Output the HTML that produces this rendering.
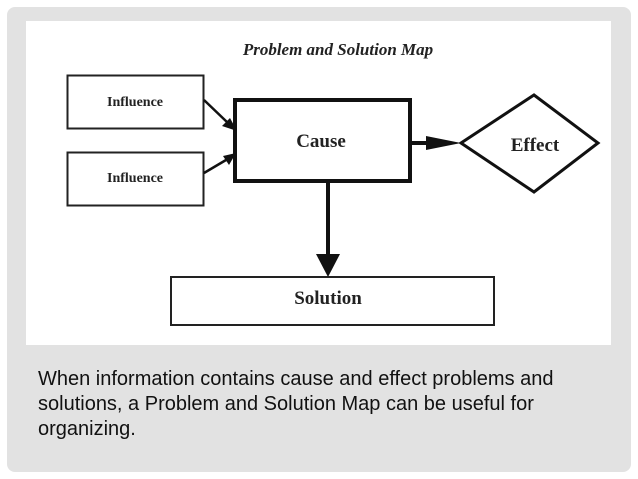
<!DOCTYPE html>
<html><head><style>
body{margin:0;background:#fff;width:638px;height:479px;overflow:hidden;font-family:"Liberation Sans",sans-serif}
.panel{position:absolute;left:7px;top:7px;width:624px;height:465px;background:#e2e2e2;border-radius:8px}
.white{position:absolute;left:26px;top:21px;width:585px;height:324px;background:#fff}
.cap{position:absolute;left:38px;top:367px;font-size:20px;line-height:25px;color:#111;width:556px}
</style></head><body>
<div class="panel"></div>
<div class="white"></div>
<svg style="position:absolute;left:0;top:0" width="638" height="479">
<g font-family="Liberation Serif,serif" fill="#222">
<text x="338" y="55" font-size="17" font-style="italic" font-weight="bold" text-anchor="middle">Problem and Solution Map</text>
<rect x="67.5" y="75.5" width="136" height="53" fill="#fff" stroke="#222" stroke-width="2"/>
<rect x="67.5" y="152.5" width="136" height="53" fill="#fff" stroke="#222" stroke-width="2"/>
<text x="135" y="106" font-size="14" font-weight="bold" text-anchor="middle">Influence</text>
<text x="135" y="182" font-size="14" font-weight="bold" text-anchor="middle">Influence</text>
<rect x="235" y="100" width="175" height="81" fill="#fff" stroke="#111" stroke-width="4"/>
<text x="321" y="147" font-size="19" font-weight="bold" text-anchor="middle">Cause</text>
<polygon points="461,143 534,95 598,143 534,192" fill="#fff" stroke="#111" stroke-width="3"/>
<text x="535" y="151" font-size="19" font-weight="bold" text-anchor="middle">Effect</text>
<rect x="171" y="277" width="323" height="48" fill="#fff" stroke="#222" stroke-width="2"/>
<text x="328" y="304" font-size="19" font-weight="bold" text-anchor="middle">Solution</text>
<line x1="204" y1="100" x2="228" y2="123" stroke="#111" stroke-width="2.5"/>
<polygon points="237,131 222,126 230,118" fill="#111"/>
<line x1="204" y1="173" x2="226" y2="160" stroke="#111" stroke-width="2.5"/>
<polygon points="236,153 229,165 223,156" fill="#111"/>
<line x1="410" y1="143" x2="428" y2="143" stroke="#111" stroke-width="4"/>
<polygon points="426,136 461,143 426,150" fill="#111"/>
<line x1="328" y1="181" x2="328" y2="256" stroke="#111" stroke-width="4"/>
<polygon points="316,254 340,254 328,277" fill="#111"/>
</g></svg>
<div class="cap">When information contains cause and effect problems and solutions, a Problem and Solution Map can be useful for organizing.</div>
</body></html>
